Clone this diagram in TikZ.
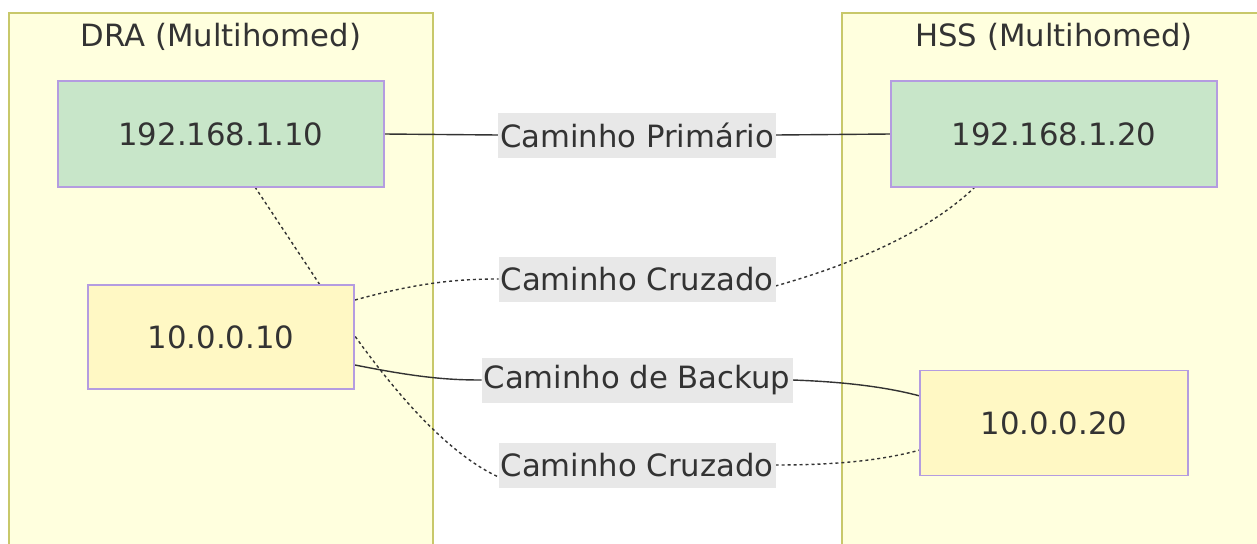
\documentclass[tikz,border=0pt]{standalone}
\usepackage{fontspec}
\setmainfont{DejaVu Sans}
\definecolor{clfill}{HTML}{FFFFDE}
\definecolor{clline}{HTML}{C8C86A}
\definecolor{gfill}{HTML}{C8E6C9}
\definecolor{yfill}{HTML}{FFF8C4}
\definecolor{nline}{HTML}{B49CE0}
\definecolor{lblbg}{HTML}{E8E8E8}
\definecolor{txt}{HTML}{333333}
\begin{document}
\begin{tikzpicture}[x=1pt,y=-1pt,
  every node/.style={font=\fontsize{30.7}{36}\selectfont, text=txt, inner sep=0pt, outer sep=0pt},
  cluster/.style={draw=clline, fill=clfill, line width=2pt, minimum width=424pt, minimum height=560pt, anchor=north west},
  ipbox/.style={draw=nline, line width=1.8pt},
  green/.style={ipbox, fill=gfill},
  yellow/.style={ipbox, fill=yfill},
  lbl/.style={fill=lblbg, minimum height=45pt},
  edge/.style={draw=txt, line width=1.4pt},
  dotedge/.style={edge, dash pattern=on 3pt off 3pt}
]
\useasboundingbox (0,0) rectangle (1257,543);
\fill[white] (0,0) rectangle (1257,543);
\node[cluster] (dra) at (9,13) {};
\node[cluster] (hss) at (842,13) {};
\node[anchor=base] (tdra) at (221,47) {DRA (Multihomed)};
\node[anchor=base] (thss) at (1054,47) {HSS (Multihomed)};

% label nodes (placed first to be used as anchors)
\path (637,135) node[lbl, minimum width=278pt] (l1) {\phantom{Caminho Primário}};
\path (637,279) node[lbl, minimum width=277pt] (l2) {\phantom{Caminho Cruzado}};
\path (637,380) node[lbl, minimum width=311pt] (l3) {\phantom{Caminho de Backup}};
\path (637,465) node[lbl, minimum width=277pt] (l4) {\phantom{Caminho Cruzado}};

\coordinate (n1b) at (255,187);
\coordinate (n1r) at (384,134);
\coordinate (n2l) at (891,134);
\coordinate (n2b) at (975,187);
\coordinate (n3tr) at (355,300);
\coordinate (n3r) at (355,365);
\coordinate (n4l) at (920,396);
\coordinate (n4lb) at (920,450);

% edges
\draw[edge] (n1r) -- (l1.west);
\draw[edge] (l1.east) -- (n2l);
\draw[dotedge] (n1b) -- (330,300) .. controls (380,375) and (440,450) .. ([yshift=-12pt]l4.west);
\draw[dotedge] ([yshift=0pt]l4.east) .. controls (850,465) and (890,458) .. (n4lb);
\draw[dotedge] (n3tr) .. controls (420,282) and (460,279) .. ([yshift=0pt]l2.west);
\draw[dotedge] ([yshift=-7pt]l2.east) .. controls (860,262) and (930,230) .. (n2b);
\draw[edge] (n3r) .. controls (420,378) and (450,380) .. (l3.west);
\draw[edge] (l3.east) .. controls (850,382) and (890,388) .. (n4l);

% IP nodes
\node[green, minimum width=326pt, minimum height=106pt] (n1) at (221,134) {192.168.1.10};
\node[green, minimum width=326pt, minimum height=106pt] (n2) at (1054,134) {192.168.1.20};
\node[yellow, minimum width=266pt, minimum height=104pt] (n3) at (221,337) {10.0.0.10};
\node[yellow, minimum width=268pt, minimum height=105pt] (n4) at (1054,423) {10.0.0.20};

% label texts on top
\node[lbl, minimum width=278pt] at (l1) {Caminho Primário};
\node[lbl, minimum width=277pt] at (l2) {Caminho Cruzado};
\node[lbl, minimum width=311pt] at (l3) {Caminho de Backup};
\node[lbl, minimum width=277pt] at (l4) {Caminho Cruzado};
\end{tikzpicture}
\end{document}
